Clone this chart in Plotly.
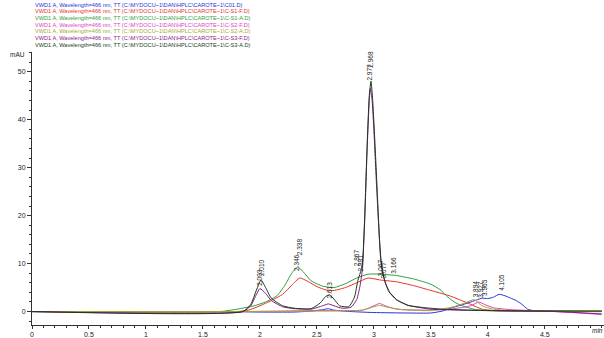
import plotly.graph_objects as go

# ---------------- data ----------------
legend_texts = [
    "VWD1 A, Wavelength=466 nm, TT (C:\\MYDOCU~1\\DAN\\HPLC\\CAROTE~1\\C01.D)",
    "VWD1 A, Wavelength=466 nm, TT (C:\\MYDOCU~1\\DAN\\HPLC\\CAROTE~1\\C-S1-F.D)",
    "VWD1 A, Wavelength=466 nm, TT (C:\\MYDOCU~1\\DAN\\HPLC\\CAROTE~1\\C-S1-A.D)",
    "VWD1 A, Wavelength=466 nm, TT (C:\\MYDOCU~1\\DAN\\HPLC\\CAROTE~1\\C-S2-F.D)",
    "VWD1 A, Wavelength=466 nm, TT (C:\\MYDOCU~1\\DAN\\HPLC\\CAROTE~1\\C-S2-A.D)",
    "VWD1 A, Wavelength=466 nm, TT (C:\\MYDOCU~1\\DAN\\HPLC\\CAROTE~1\\C-S3-F.D)",
    "VWD1 A, Wavelength=466 nm, TT (C:\\MYDOCU~1\\DAN\\HPLC\\CAROTE~1\\C-S3-A.D)",
]
colors = ["#2233dd", "#e8322a", "#2e9e3e", "#e040c8", "#a8a830", "#8a1a8a", "#153d15"]

c01_x = [0, 1.0, 1.7, 2.0, 2.3, 2.45, 2.55, 2.6, 2.65, 2.8, 3.0, 3.3, 3.5, 3.6, 3.7, 3.8,
         3.9, 3.95, 4.0, 4.05, 4.1, 4.15, 4.2, 4.25, 4.3, 4.35, 4.4, 4.6, 5.0]
c01_y = [0, 0, 0, -0.1, -0.1, 0.1, 0.4, 0.6, 0.3, 0.0, -0.2, -0.3, -0.3, 0.1, 0.9, 1.6,
         2.4, 2.8, 2.7, 3.0, 3.6, 3.3, 2.8, 2.3, 1.5, 0.5, 0.2, 0.0, 0.0]

s1f_x = [0, 1.8, 1.9, 2.0, 2.1, 2.2, 2.28, 2.35, 2.42, 2.5, 2.58, 2.65, 2.75, 2.85, 2.95,
         3.05, 3.2, 3.35, 3.5, 3.65, 3.75, 3.85, 3.95, 4.05, 4.3, 5.0]
s1f_y = [0, 0, 0.3, 1.2, 2.3, 3.6, 5.5, 7.0, 6.3, 5.2, 4.5, 4.4, 5.0, 6.0, 7.0,
         6.6, 6.2, 5.4, 4.4, 3.4, 2.5, 1.5, 0.5, 0.2, 0.1, 0.0]

s1a_x = [0, 1.65, 1.8, 1.95, 2.05, 2.15, 2.22, 2.28, 2.33, 2.38, 2.45, 2.55, 2.65, 2.75,
         2.85, 2.95, 3.05, 3.2, 3.35, 3.5, 3.58, 3.65, 3.72, 3.8, 3.9, 4.1, 5.0]
s1a_y = [0, 0, 0.5, 1.2, 2.0, 3.3, 5.5, 8.0, 9.3, 8.3, 6.4, 5.3, 5.0, 5.8,
         7.0, 7.8, 7.8, 7.5, 6.8, 5.7, 4.6, 3.0, 1.8, 1.0, 0.4, 0.2, 0.1]

s2f_x = [0, 1.8, 2.5, 2.9, 3.0, 3.05, 3.1, 3.2, 3.5, 3.7, 3.85, 3.92, 3.97, 4.05, 4.2, 4.6, 5.0]
s2f_y = [0, 0, 0.2, 0.3, 1.2, 1.7, 1.2, 0.5, 0.3, 0.6, 1.2, 2.0, 1.5, 0.8, 0.4, 0.0, -0.6]

s2a_x = [0, 1.8, 2.5, 2.9, 3.0, 3.05, 3.12, 3.25, 3.5, 3.7, 3.8, 3.88, 3.95, 4.05, 4.2, 4.6, 5.0]
s2a_y = [0, 0, 0.1, 0.3, 1.0, 1.3, 0.9, 0.4, 0.2, 1.0, 1.8, 2.5, 1.2, 0.5, 0.2, 0.1, 0.1]

s3f_x = [0, 1.85, 1.92, 1.97, 2.0, 2.05, 2.1, 2.2, 2.3, 2.45, 2.55, 2.6, 2.65, 2.72, 2.8,
         2.85, 2.88, 2.9, 2.92, 2.94, 2.96, 2.97, 2.985, 3.0, 3.02, 3.04, 3.06, 3.09, 3.13,
         3.2, 3.3, 3.5, 4.0, 4.6, 5.0]
s3f_y = [0, 0, 1.2, 3.6, 4.8, 3.8, 2.3, 1.0, 0.6, 0.5, 1.2, 1.6, 1.2, 0.7, 0.9,
         2.5, 5.5, 9.0, 19, 33, 44, 46.5, 44, 38, 28, 19, 11, 7, 4.2,
         2.4, 1.3, 0.5, 0.2, 0.0, -0.5]

s3a_x = [0, 1.85, 1.92, 1.97, 2.01, 2.05, 2.1, 2.2, 2.3, 2.45, 2.53, 2.58, 2.61, 2.65, 2.7,
         2.78, 2.83, 2.86, 2.88, 2.9, 2.92, 2.94, 2.96, 2.975, 2.99, 3.01, 3.03, 3.05, 3.07,
         3.1, 3.14, 3.2, 3.3, 3.45, 3.6, 4.0, 5.0]
s3a_y = [0, 0, 1.5, 4.5, 6.6, 5.0, 2.8, 1.2, 0.7, 0.6, 1.8, 3.2, 3.5, 2.6, 1.2,
         1.0, 3.0, 6.5, 8.0, 10, 20, 34, 45, 48, 44, 35, 25, 15, 9,
         6.0, 4.0, 2.5, 1.3, 0.8, 0.5, 0.2, 0.1]

peak_labels = ["2.003", "2.010", "2.346", "2.338", "2.613", "2.867", "2.881", "2.977", "2.968",
               "3.067", "3.077", "3.166", "3.894", "3.927", "3.965", "4.105"]
peak_x = [1.99, 2.015, 2.32, 2.355, 2.61, 2.855, 2.885, 2.965, 2.975,
          3.06, 3.085, 3.17, 3.89, 3.93, 3.97, 4.12]
peak_y = [5.0, 7.0, 8.0, 11.3, 2.3, 9.0, 8.0, 47.8, 50.5,
          7.0, 6.5, 7.4, 2.5, 2.5, 2.8, 3.9]

x_ticks = [0, 0.5, 1, 1.5, 2, 2.5, 3, 3.5, 4, 4.5]
x_tick_text = ["0", "0.5", "1", "1.5", "2", "2.5", "3", "3.5", "4", "4.5"]
y_ticks = [0, 10, 20, 30, 40, 50]

# ---------------- figure ----------------
W, H = 604, 338
ML, MR, MT, MB = 32, 0, 52, 10
PH = H - MT - MB

def py_to_paper(py):
    return (H - MB - py) / PH

def px_to_paper(px):
    return (px - ML) / (W - ML - MR)

series = [(c01_x, c01_y), (s1f_x, s1f_y), (s1a_x, s1a_y), (s2f_x, s2f_y),
          (s2a_x, s2a_y), (s3f_x, s3f_y), (s3a_x, s3a_y)]

fig = go.Figure()
for (xs, ys), col, name in zip(series, colors, legend_texts):
    fig.add_trace(go.Scatter(x=xs, y=ys, mode="lines", name=name,
                             line=dict(color=col, width=1, shape="spline", smoothing=0.5),
                             showlegend=False, hoverinfo="skip"))

annotations = []
for i, (t, c) in enumerate(zip(legend_texts, colors)):
    annotations.append(dict(text=t, xref="paper", yref="paper",
                            x=px_to_paper(33), y=py_to_paper(4 + i * 6.8),
                            xanchor="left", yanchor="middle", showarrow=False,
                            font=dict(family="Liberation Sans, Arial", size=5.6, color=c)))

for t, xv, yv in zip(peak_labels, peak_x, peak_y):
    annotations.append(dict(text=t, x=xv, y=yv, xref="x", yref="y", textangle=-90,
                            xanchor="center", yanchor="bottom", showarrow=False,
                            font=dict(family="Liberation Sans, Arial", size=6.5, color="#222222")))

annotations.append(dict(text="mAU", xref="paper", yref="paper", x=px_to_paper(17),
                        y=py_to_paper(55), xanchor="center", yanchor="middle", showarrow=False,
                        font=dict(family="Liberation Sans, Arial", size=6.5, color="#222222")))
annotations.append(dict(text="<i>min</i>", xref="paper", yref="paper", x=px_to_paper(597),
                        y=py_to_paper(334), xanchor="center", yanchor="middle", showarrow=False,
                        font=dict(family="Liberation Sans, Arial", size=6.5, color="#222222")))

axis_font = dict(family="Liberation Sans, Arial", size=7, color="#222222")
fig.update_layout(
    width=W, height=H, autosize=False,
    margin=dict(l=ML, r=MR, t=MT, b=MB, pad=0),
    paper_bgcolor="white", plot_bgcolor="white",
    showlegend=False,
    annotations=annotations,
    xaxis=dict(range=[0, 5.02], tickvals=x_ticks, ticktext=x_tick_text,
               showgrid=False, zeroline=False, showline=True, linecolor="#333333", linewidth=1,
               ticks="outside", ticklen=3, tickcolor="#333333", tickfont=axis_font,
               minor=dict(dtick=0.1, ticks="outside", ticklen=2, tickcolor="#333333")),
    yaxis=dict(range=[-2.8, 54.1], tickvals=y_ticks,
               showgrid=False, zeroline=False, showline=True, linecolor="#333333", linewidth=1,
               ticks="outside", ticklen=4, tickcolor="#333333", tickfont=axis_font,
               minor=dict(dtick=2, ticks="outside", ticklen=2, tickcolor="#333333")),
)

fig.write_html("out.html")
